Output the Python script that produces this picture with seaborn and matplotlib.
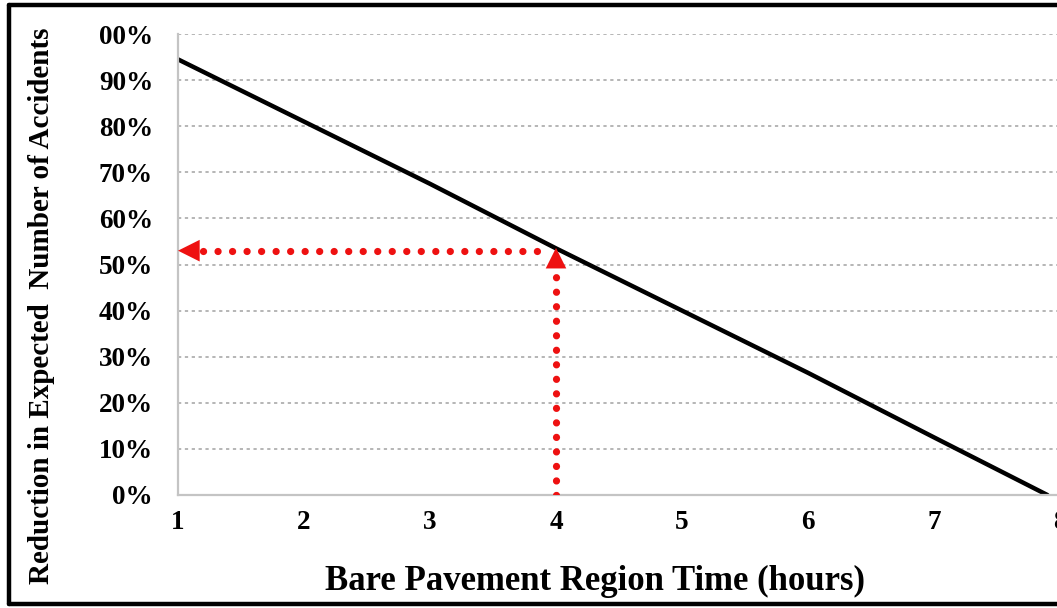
import matplotlib
matplotlib.use("Agg")
import matplotlib.pyplot as plt
from matplotlib.lines import Line2D
import seaborn as sns
import pandas as pd

# ---- data ----
hours = [1, 2, 3, 4, 5, 6, 7, 7.9]
reduction = [94.5, 81.0, 67.5, 53.5, 40.0, 26.5, 12.5, 0.0]
example_time = 4
example_reduction = 53
x_ticks = [1, 2, 3, 4, 5, 6, 7, 8]
y_ticks = [0, 10, 20, 30, 40, 50, 60, 70, 80, 90, 100]
y_tick_labels = ["0%", "10%", "20%", "30%", "40%", "50%", "60%", "70%", "80%", "90%", "00%"]
x_label = "Bare Pavement Region Time (hours)"
y_label = "Reduction in Expected  Number of Accidents"

df = pd.DataFrame({"hours": hours, "reduction": reduction})

sns.set_style("white")
plt.rcParams["font.family"] = ["Liberation Serif", "DejaVu Serif"]
plt.rcParams["font.weight"] = "bold"
plt.rcParams["text.color"] = "black"
plt.rcParams["axes.labelcolor"] = "black"
plt.rcParams["xtick.labelcolor"] = "black"
plt.rcParams["ytick.labelcolor"] = "black"

W, H = 1057, 608
fig = plt.figure(figsize=(W / 100, H / 100), dpi=100)
ax = fig.add_axes([178 / W, 113 / H, 882 / W, 461 / H])

sns.lineplot(data=df, x="hours", y="reduction", ax=ax, color="black", lw=3.2)

ax.set_xlim(1, 8)
ax.set_ylim(0, 100)
ax.set_xticks(x_ticks)
ax.set_xticklabels([str(t) for t in x_ticks], fontsize=19.5, fontweight="bold", color="black")
ax.set_yticks(y_ticks)
ax.set_yticklabels(y_tick_labels, fontsize=19.5, fontweight="bold", color="black")

# gridlines
for yv in y_ticks[1:]:
    ax.axhline(yv, color="#b0b0b0", lw=1.3, ls=(0, (1.8, 2.0)), zorder=0)

for side in ["top", "right"]:
    ax.spines[side].set_visible(False)
for side in ["left", "bottom"]:
    ax.spines[side].set_color("#c4c4c4")
    ax.spines[side].set_linewidth(1.6)

ax.tick_params(axis="y", length=0, pad=18)
ax.tick_params(axis="x", direction="in", length=5, width=1.2, color="#c4c4c4", pad=11)

# red dotted guide lines with arrow heads
dot_style = dict(color="#ee1111", lw=5.2, ls=(0, (0.01, 2.0)), dash_capstyle="round",
                 solid_capstyle="round", zorder=3)
ax.plot([example_time, example_time], [0, example_reduction - 4], **dot_style)
ax.plot([x_ticks[0] + 0.2, example_time - 0.05], [example_reduction, example_reduction], **dot_style)
ax.annotate("", xy=(example_time, example_reduction + 0.6), xytext=(example_time, example_reduction - 6),
            arrowprops=dict(arrowstyle="-|>,head_length=0.4,head_width=0.2", mutation_scale=37,
                            color="#ee1111", lw=0, shrinkA=0, shrinkB=0), zorder=4)
ax.annotate("", xy=(x_ticks[0], example_reduction), xytext=(x_ticks[0] + 0.5, example_reduction),
            arrowprops=dict(arrowstyle="-|>,head_length=0.4,head_width=0.2", mutation_scale=39,
                            color="#ee1111", lw=0, shrinkA=0, shrinkB=0), zorder=4)

ax.set_xlabel(x_label, fontsize=25, fontweight="bold", ha="center", va="center", color="black")
ax.xaxis.set_label_coords((595 - 178) / 882, (495 - 581) / 461)
ax.set_ylabel(y_label, fontsize=21, fontweight="bold", ha="center", va="center", color="black")
ax.yaxis.set_label_coords((42 - 178) / 882, (495 - 306) / 461)

# figure border (right side cropped)
bw = 3.2
fig.add_artist(Line2D([8.5 / W, 1.0], [1 - 5 / H, 1 - 5 / H], color="black", lw=bw, transform=fig.transFigure))
fig.add_artist(Line2D([8.5 / W, 1.0], [4.5 / H, 4.5 / H], color="black", lw=bw, transform=fig.transFigure))
fig.add_artist(Line2D([8.5 / W, 8.5 / W], [4.5 / H, 1 - 5 / H], color="black", lw=bw, transform=fig.transFigure))

fig.savefig("out.png", dpi=100)
